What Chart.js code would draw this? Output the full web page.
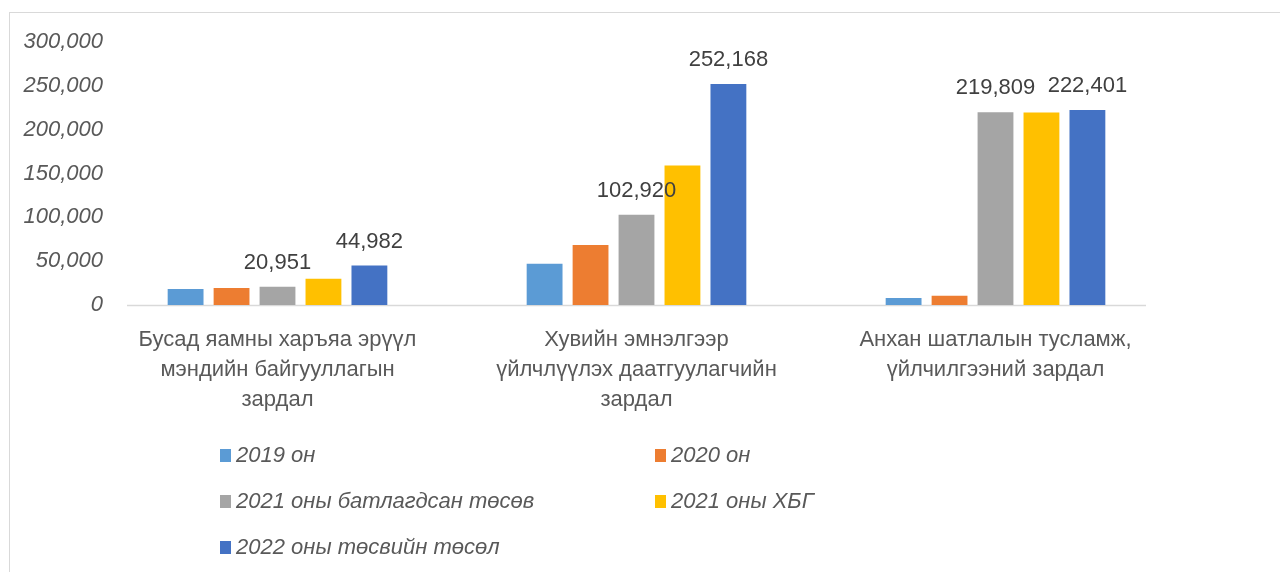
<!DOCTYPE html>
<html>
<head>
<meta charset="utf-8">
<script src="https://cdn.jsdelivr.net/npm/chart.js@4.4.1/dist/chart.umd.min.js"></script>
<style>
  body { margin: 0; background: #fff; }
  #wrap { position: relative; width: 1280px; height: 572px; overflow: hidden; }
  #frame { position: absolute; left: 9px; top: 12px; width: 1300px; height: 600px;
           border-left: 1.5px solid #d9d9d9; border-top: 1.5px solid #d9d9d9; }
  #chart { position: absolute; left: 0; top: 0; }
  #legend { position: absolute; left: 220px; top: 432px; display: grid;
            grid-template-columns: 435px 300px; grid-auto-rows: 46px;
            font: italic 22px "Liberation Sans", Arial, sans-serif; color: #595959; }
  .item { display: flex; align-items: center; white-space: nowrap; }
  .box { width: 11px; height: 13px; margin-right: 5px; flex: none; }
</style>
</head>
<body>
<div id="wrap">
  <div id="frame"></div>
  <canvas id="chart" width="1280" height="572"></canvas>
  <div id="legend"></div>
</div>
<script>
const categories = [
    ["Бусад яамны харъяа эрүүл", "мэндийн байгууллагын", "зардал"],
    ["Хувийн эмнэлгээр", "үйлчлүүлэх даатгуулагчийн", "зардал"],
    ["Анхан шатлалын тусламж,", "үйлчилгээний зардал"]
]
const seriesNames = ["2019 он", "2020 он", "2021 оны батлагдсан төсөв", "2021 оны ХБГ", "2022 оны төсвийн төсөл"]
const seriesColors = ["#5B9BD5", "#ED7D31", "#A5A5A5", "#FFC000", "#4472C4"]
const values2019 = [18200, 47100, 8000]
const values2020 = [19400, 68400, 10600]
const values2021Approved = [20951, 102920, 219809]
const values2021Expected = [30000, 159200, 219500]
const values2022 = [44982, 252168, 222401]
const yTicks = [0, 50000, 100000, 150000, 200000, 250000, 300000]
// only these series carry value labels in the original
const labelledSeries = [2, 4]

const allValues = [values2019, values2020, values2021Approved, values2021Expected, values2022]

const valueLabels = {
    id: 'valueLabels',
    afterDatasetsDraw(chart) {
        const ctx = chart.ctx
        ctx.save()
        ctx.font = '22px "Liberation Sans", Arial, sans-serif'
        ctx.fillStyle = '#404040'
        ctx.textAlign = 'center'
        ctx.textBaseline = 'alphabetic'
        labelledSeries.forEach(i =>
        {
            chart.getDatasetMeta(i).data.forEach((bar, j) =>
            {
                const v = chart.data.datasets[i].data[j]
                ctx.fillText(v.toLocaleString('en-US'), bar.x, bar.y - 18)
            })
        })
        ctx.restore()
    }
}

const baseline = {
    id: 'baseline',
    beforeDatasetsDraw(chart) {
        const ctx = chart.ctx
        const area = chart.chartArea
        const y = chart.scales.y.getPixelForValue(0)
        ctx.save()
        ctx.strokeStyle = '#d9d9d9'
        ctx.lineWidth = 1.5
        ctx.beginPath()
        ctx.moveTo(area.left + 29, y + 0.5)
        ctx.lineTo(area.right - 29, y + 0.5)
        ctx.stroke()
        ctx.restore()
    }
}

const graphConfig = {
    type: 'bar',
    data: {
        labels: categories,
        datasets: allValues.map((vals, i) => ({
            label: seriesNames[i],
            data: vals,
            backgroundColor: seriesColors[i],
            categoryPercentage: 0.64,
            barPercentage: 0.78,
        })),
    },
    options: {
        responsive: false,
        animation: false,
        layout: { padding: { top: 42, left: 0, right: 105, bottom: 0 } },
        plugins: {
            legend: { display: false },
            tooltip: { enabled: false },
        },
        scales: {
            x: {
                grid: { display: false, drawTicks: false },
                border: { display: false },
                ticks: {
                    maxRotation: 0,
                    autoSkip: false,
                    padding: 20,
                    color: '#595959',
                    font: { family: '"Liberation Sans", Arial, sans-serif', size: 22, lineHeight: 1.36 },
                },
                afterFit: s => { s.height = 267 },
            },
            y: {
                min: 0,
                max: 300000,
                afterBuildTicks: s => { s.ticks = yTicks.map(v => ({ value: v })) },
                grid: { display: false, drawTicks: false },
                border: { display: false },
                ticks: {
                    padding: -5,
                    color: '#595959',
                    font: { family: '"Liberation Sans", Arial, sans-serif', size: 22, style: 'italic' },
                    callback: v => v.toLocaleString('en-US'),
                },
                afterFit: s =>
                {
                    s.width = 98
                    // labels poke a few px into the plot, so don't clip them to the axis box
                    s._computeLabelArea = () => null
                },
            },
        },
    },
    plugins: [baseline, valueLabels],
}

const ctx = document.getElementById("chart")
const myChart = new Chart(ctx, graphConfig)

// legend laid out in two columns like the original
const legend = document.getElementById("legend")
myChart.data.datasets.forEach(ds =>
{
    const item = document.createElement("div")
    item.className = "item"
    const box = document.createElement("span")
    box.className = "box"
    box.style.background = ds.backgroundColor
    const text = document.createElement("span")
    text.textContent = ds.label
    item.appendChild(box)
    item.appendChild(text)
    legend.appendChild(item)
})
</script>
</body>
</html>
